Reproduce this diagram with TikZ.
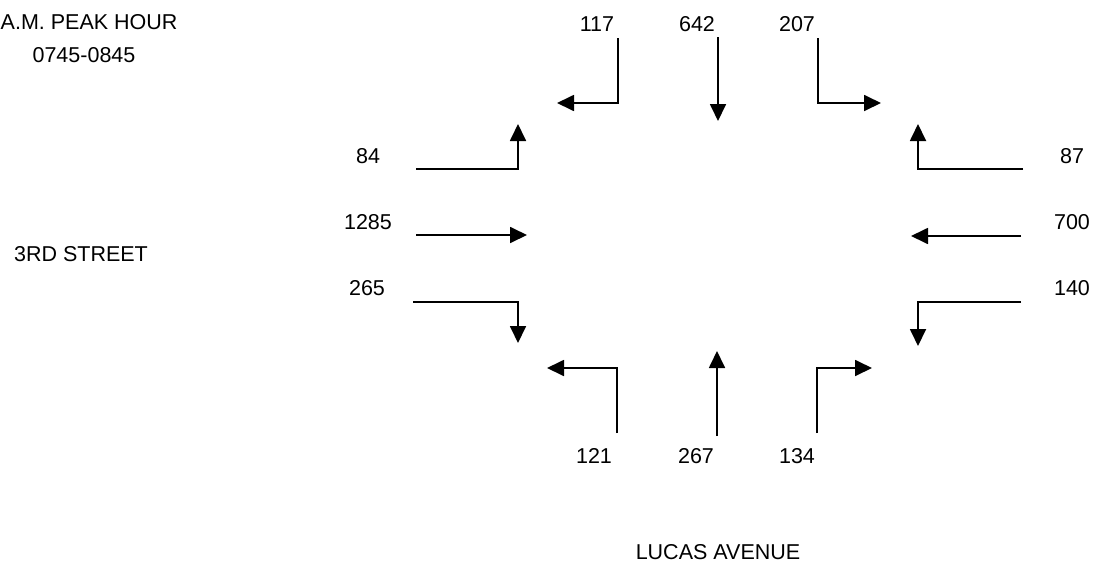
\documentclass[tikz,border=0pt]{standalone}
\usepackage{fontspec}
\setmainfont{Liberation Sans}
\usetikzlibrary{arrows.meta}

\begin{document}
\begin{tikzpicture}
[
  x=1pt, y=-1pt,
  vol/.style={font=\fontsize{21.5}{25}\selectfont, inner sep=0pt},
  move/.style={line width=1.8pt, -{Triangle[length=17pt,width=16pt]}}
]
  \useasboundingbox (0,0) rectangle (1103,571);

  % titles
  \node[vol, anchor=west] (peak) at (0.5,22) {A.M. PEAK HOUR};
  \node[vol] (period) at (84,55) {0745-0845};
  \node[vol] (street) at (81,254) {3RD STREET};
  \node[vol] (avenue) at (718,552) {LUCAS AVENUE};

  % southbound
  \node[vol] (sbL) at (597,24) {117};
  \node[vol] (sbT) at (697,24) {642};
  \node[vol] (sbR) at (797,24) {207};
  \coordinate (sbL0) at (618,38);  \coordinate (sbL1) at (618,103); \coordinate (sbL2) at (557,103);
  \coordinate (sbT0) at (718,37);  \coordinate (sbT1) at (718,121);
  \coordinate (sbR0) at (818,38);  \coordinate (sbR1) at (818,103); \coordinate (sbR2) at (881,103);
  \draw[move] (sbL0) -- (sbL1) -- (sbL2);
  \draw[move] (sbT0) -- (sbT1);
  \draw[move] (sbR0) -- (sbR1) -- (sbR2);

  % eastbound
  \node[vol] (ebL) at (368,156) {84};
  \node[vol] (ebT) at (368,222) {1285};
  \node[vol] (ebR) at (367,288) {265};
  \coordinate (ebL0) at (416,169); \coordinate (ebL1) at (518,169); \coordinate (ebL2) at (518,124);
  \coordinate (ebT0) at (416,235); \coordinate (ebT1) at (527,235);
  \coordinate (ebR0) at (413,302); \coordinate (ebR1) at (518,302); \coordinate (ebR2) at (518,343);
  \draw[move] (ebL0) -- (ebL1) -- (ebL2);
  \draw[move] (ebT0) -- (ebT1);
  \draw[move] (ebR0) -- (ebR1) -- (ebR2);

  % westbound
  \node[vol] (wbR) at (1072,156) {87};
  \node[vol] (wbT) at (1072,222) {700};
  \node[vol] (wbL) at (1072,288) {140};
  \coordinate (wbR0) at (1023,169); \coordinate (wbR1) at (918,169); \coordinate (wbR2) at (918,124);
  \coordinate (wbT0) at (1021,236); \coordinate (wbT1) at (911,236);
  \coordinate (wbL0) at (1021,302); \coordinate (wbL1) at (918,302); \coordinate (wbL2) at (918,346);
  \draw[move] (wbR0) -- (wbR1) -- (wbR2);
  \draw[move] (wbT0) -- (wbT1);
  \draw[move] (wbL0) -- (wbL1) -- (wbL2);

  % northbound
  \node[vol] (nbL) at (594,456) {121};
  \node[vol] (nbT) at (696,456) {267};
  \node[vol] (nbR) at (797,456) {134};
  \coordinate (nbL0) at (617,433); \coordinate (nbL1) at (617,368); \coordinate (nbL2) at (547,368);
  \coordinate (nbT0) at (717,436); \coordinate (nbT1) at (717,351);
  \coordinate (nbR0) at (817,433); \coordinate (nbR1) at (817,368); \coordinate (nbR2) at (872,368);
  \draw[move] (nbL0) -- (nbL1) -- (nbL2);
  \draw[move] (nbT0) -- (nbT1);
  \draw[move] (nbR0) -- (nbR1) -- (nbR2);
\end{tikzpicture}
\end{document}
